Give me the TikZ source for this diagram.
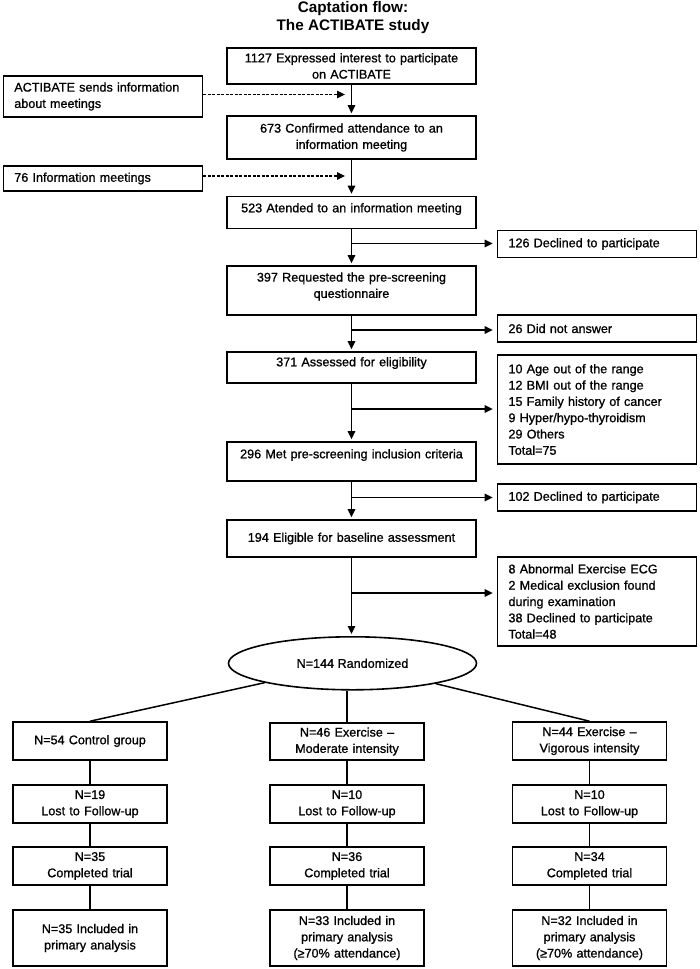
\documentclass[tikz,border=0pt]{standalone}
\usepackage{fontspec}
\setmainfont{Liberation Sans}
\newfontfamily\bodyfont{Liberation Sans}[FakeBold=1,Ligatures=TeX]
\usetikzlibrary{arrows.meta,shapes.geometric,calc}
\begin{document}
\begin{tikzpicture}[x=1pt,y=-1pt,
  every node/.style={font=\bodyfont\fontsize{12.6}{16.3}\selectfont},
  box/.style={draw, line width=1.6pt, align=center, inner sep=0pt},
  mainbox/.style={box, minimum width=249, text width=245},
  sidebox/.style={box, minimum width=199, text width=177, align=left},
  colbox/.style={box, minimum width=154, text width=150},
  conn/.style={line width=1.5pt},
  arr/.style={conn, -{Triangle[length=8pt,width=7.5pt]}},
  dasharr/.style={arr, line width=1.3pt, dash pattern=on 3pt off 1.5pt},
]
\useasboundingbox (0,0) rectangle (700,969);

\node[font=\fontsize{15.3}{18}\selectfont\bfseries, align=center] (title) at (353,18) {Captation flow:\\The ACTIBATE study};

% main column
\node[mainbox, minimum height=36] (b1) at (351.5,66) {1127 Expressed interest to participate\\on ACTIBATE};
\node[mainbox, minimum height=43] (b2) at (351.5,137.5) {673 Confirmed attendance to an\\information meeting};
\node[mainbox, minimum height=32, text height=9.2pt, text depth=9.6pt] (b3) at (351.5,212.5) {523 Atended to an information meeting};
\node[mainbox, minimum height=49, text height=9.2pt, text depth=27pt] (b4) at (351.5,290.5) {397 Requested the pre-screening\\questionnaire};
\node[mainbox, minimum height=31, text height=9.2pt, text depth=11.6pt] (b5) at (351.5,367.5) {371 Assessed for eligibility};
\node[mainbox, minimum height=39, text height=9.2pt, text depth=15.6pt] (b6) at (351.5,461.5) {296 Met pre-screening inclusion criteria};
\node[mainbox, minimum height=37] (b7) at (351.5,538.5) {194 Eligible for baseline assessment};
\node[draw, line width=1.6pt, ellipse, minimum width=248, minimum height=53, inner sep=0pt] (ell) at (352.5,663.3) {N=144 Randomized};

% left boxes
\node[sidebox, minimum height=41] (l1) at (102.8,96.5) {ACTIBATE sends information\\about meetings};
\node[sidebox, minimum height=25] (l2) at (102.8,178.5) {76 Information meetings};

% right boxes
\node[sidebox, minimum height=27] (r1) at (597,244) {126 Declined to participate};
\node[sidebox, minimum height=27] (r2) at (597,328.5) {26 Did not answer};
\node[sidebox, minimum height=109] (r3) at (597,409.5) {10 Age out of the range\\12 BMI out of the range\\15 Family history of cancer\\9 Hyper/hypo-thyroidism\\29 Others\\Total=75};
\node[sidebox, minimum height=27] (r4) at (597,497.5) {102 Declined to participate};
\node[sidebox, minimum height=89] (r5) at (597,601.5) {8 Abnormal Exercise ECG\\2 Medical exclusion found\\during examination\\38 Declined to participate\\Total=48};

% bottom columns
\node[colbox, minimum height=38] (c11) at (90,741) {N=54 Control group};
\node[colbox, minimum height=38] (c12) at (90,804) {N=19\\Lost to Follow-up};
\node[colbox, minimum height=38] (c13) at (90,866) {N=35\\Completed trial};
\node[colbox, minimum height=56] (c14) at (90,938) {N=35 Included in\\primary analysis};

\node[colbox, minimum height=37] (c21) at (347,741.5) {N=46 Exercise –\\Moderate intensity};
\node[colbox, minimum height=38] (c22) at (347,804) {N=10\\Lost to Follow-up};
\node[colbox, minimum height=38] (c23) at (347,866) {N=36\\Completed trial};
\node[colbox, minimum height=56] (c24) at (347,938) {N=33 Included in\\primary analysis\\(≥70\% attendance)};

\node[colbox, minimum height=38] (c31) at (589.5,741) {N=44 Exercise –\\Vigorous intensity};
\node[colbox, minimum height=38] (c32) at (589.5,804) {N=10\\Lost to Follow-up};
\node[colbox, minimum height=38] (c33) at (589.5,866) {N=34\\Completed trial};
\node[colbox, minimum height=56] (c34) at (589.5,938) {N=32 Included in\\primary analysis\\(≥70\% attendance)};

% coordinates
\coordinate (d1) at (345,94.5);
\coordinate (d2) at (345,176);
\coordinate (s1) at (351.5,243.5);
\coordinate (s2) at (351.5,330);
\coordinate (s3) at (351.5,409);
\coordinate (s4) at (351.5,497.5);
\coordinate (s5) at (351.5,593);

% main arrows
\draw[arr, shorten >=2pt] (b1) -- (b2);
\draw[arr, shorten >=2pt] (b2) -- (b3);
\draw[arr, shorten >=2pt] (b3) -- (b4);
\draw[arr, shorten >=2pt] (b4) -- (b5);
\draw[arr, shorten >=2pt] (b5) -- (b6);
\draw[arr, shorten >=2pt] (b6) -- (b7);
\draw[arr, shorten >=2pt] (b7.south) -- (b7.south |- ell.north);

% dashed arrows
\draw[dasharr] (l1.east |- d1) -- (d1);
\draw[dasharr] (l2.east |- d2) -- (d2);

% branches
\draw[arr, shorten >=4pt] (s1) -- (s1 -| r1.west);
\draw[arr, shorten >=4pt] (s2) -- (s2 -| r2.west);
\draw[arr, shorten >=4pt] (s3) -- (s3 -| r3.west);
\draw[arr, shorten >=4pt] (s4) -- (s4 -| r4.west);
\draw[arr, shorten >=4pt] (s5) -- (s5 -| r5.west);

% randomization
\draw[conn] (ell) -- (c11.north);
\draw[conn] (ell.south -| c21.north) -- (c21.north);
\draw[conn] (ell) -- (c31.north);

\draw[conn] (c11) -- (c12);
\draw[conn] (c12) -- (c13);
\draw[conn] (c13) -- (c14);
\draw[conn] (c21) -- (c22);
\draw[conn] (c22) -- (c23);
\draw[conn] (c23) -- (c24);
\draw[conn] (c31) -- (c32);
\draw[conn] (c32) -- (c33);
\draw[conn] (c33) -- (c34);
\end{tikzpicture}
\end{document}
